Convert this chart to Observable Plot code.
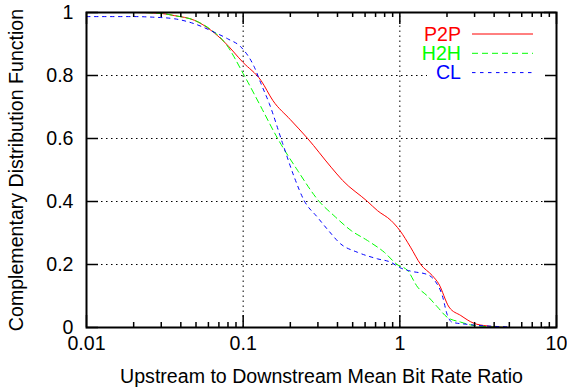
<!DOCTYPE html>
<html><head><meta charset="utf-8">
<script src="https://cdn.jsdelivr.net/npm/d3@7"></script>
<script src="https://cdn.jsdelivr.net/npm/@observablehq/plot@0.6"></script>
<style>body{margin:0;background:#fff} svg{display:block;background:#fff}</style>
</head><body><div id="chart"></div>
<script>
// ---- data ----
const seriesNames = ["P2P", "H2H", "CL"];
const seriesColors = ["#ff0000", "#00ff00", "#0000ff"];
const seriesDash = [null, "6,4", "3.5,4.5"];

const p2pX = [0.01,0.02,0.03,0.0365,0.049,0.0625,0.076,0.0996,0.13,0.155,0.2,0.258,0.364,0.431,0.622,0.72,0.877,1.0,1.17,1.36,1.61,1.77,2.06,2.45,2.95,3.6,5];
const p2pY = [1,1,0.997,0.99,0.975,0.943,0.906,0.842,0.784,0.72,0.66,0.6,0.509,0.467,0.4,0.371,0.34,0.308,0.255,0.2,0.165,0.139,0.065,0.038,0.014,0.005,0];

const h2hX = [0.01,0.02,0.03,0.0365,0.049,0.0625,0.076,0.1016,0.13,0.166,0.223,0.306,0.38,0.488,0.622,0.795,0.96,1.12,1.30,1.5,1.74,2.0,2.45,3.0,5];
const h2hY = [1,1,0.997,0.99,0.975,0.945,0.906,0.8,0.70,0.6,0.498,0.4,0.355,0.308,0.276,0.239,0.2,0.181,0.128,0.1,0.065,0.033,0.017,0.006,0];

const clX = [0.01,0.02,0.027,0.0365,0.049,0.0656,0.08,0.097,0.118,0.13,0.147,0.179,0.212,0.245,0.298,0.35,0.42,0.535,0.72,0.877,1.0,1.17,1.5,1.67,1.87,2.0,2.15,2.7,4.9];
const clY = [0.987,0.987,0.985,0.98,0.964,0.937,0.916,0.89,0.826,0.774,0.71,0.583,0.477,0.403,0.35,0.308,0.265,0.239,0.218,0.207,0.19,0.179,0.168,0.149,0.1,0.043,0.017,0.01,0.002];

const xTickValues = [0.01, 0.1, 1, 10];
const xTickLabels = ["0.01", "0.1", "1", "10"];
const yTickValues = [0, 0.2, 0.4, 0.6, 0.8, 1];
const yTickLabels = ["0", "0.2", "0.4", "0.6", "0.8", "1"];
const xGrid = [0.1, 1];
const yGrid = [0.2, 0.4, 0.6, 0.8];
const xLabel = "Upstream to Downstream Mean Bit Rate Ratio";
const yLabel = "Complementary Distribution Function";

// ---- build table ----
const allX = [p2pX, h2hX, clX], allY = [p2pY, h2hY, clY];
const rows = [];
seriesNames.forEach((s, i) => allX[i].forEach((x, j) => rows.push({series: s, x, y: allY[i][j]})));

const W = 567, H = 392, mL = 86, mR = 11, mT = 12, mB = 65;
const pw = W - mL - mR, ph = H - mT - mB;
const FONT = "'Liberation Sans', Arial, Helvetica, sans-serif";
const FS = 19.6;

// minor ticks (2..9 per decade)
const minorX = [];
[0.01, 0.1, 1].forEach(d => { for (let k = 2; k <= 9; k++) minorX.push(d * k); });

// tick lengths converted to data units
const majLen = 12, minLen = 5;
const yMaj = majLen / ph, yMin = minLen / ph;
const xFac = Math.pow(10, 3 * majLen / pw);

const marks = [];
// grid
marks.push(Plot.ruleX(xGrid, {x: d => d, y1: 0, y2: 1, stroke: "#000", strokeWidth: 1, strokeDasharray: "1.5,3.5"}));
marks.push(Plot.ruleY(yGrid, {y: d => d, x1: 0.01, x2: 10, stroke: "#000", strokeWidth: 1, strokeDasharray: "1.5,3.5"}));
// series lines
seriesNames.forEach((s, i) => {
  marks.push(Plot.line(rows.filter(r => r.series === s), {
    x: "x", y: "y", stroke: seriesColors[i], strokeWidth: 1,
    strokeDasharray: seriesDash[i] || undefined, curve: "monotone-x"
  }));
});
// ticks (inside, both sides)
marks.push(Plot.ruleX(xTickValues, {x: d => d, y1: 0, y2: yMaj, stroke: "#000", strokeWidth: 1.5}));
marks.push(Plot.ruleX(xTickValues, {x: d => d, y1: 1, y2: 1 - yMaj, stroke: "#000", strokeWidth: 1.5}));
marks.push(Plot.ruleX(minorX, {x: d => d, y1: 0, y2: yMin, stroke: "#000", strokeWidth: 1.5}));
marks.push(Plot.ruleX(minorX, {x: d => d, y1: 1, y2: 1 - yMin, stroke: "#000", strokeWidth: 1.5}));
marks.push(Plot.ruleY(yTickValues, {y: d => d, x1: 0.01, x2: 0.01 * xFac, stroke: "#000", strokeWidth: 1.5}));
marks.push(Plot.ruleY(yTickValues, {y: d => d, x1: 10, x2: 10 / xFac, stroke: "#000", strokeWidth: 1.5}));
marks.push(Plot.frame({stroke: "#000", strokeWidth: 2}));
// axes labels
marks.push(Plot.axisX(xTickValues, {tickSize: 0, tickPadding: 9, tickFormat: d => xTickLabels[xTickValues.indexOf(d)], fontSize: FS, label: null}));
marks.push(Plot.axisY(yTickValues, {tickSize: 0, tickPadding: 13, tickFormat: d => yTickLabels[yTickValues.indexOf(d)], fontSize: FS, label: null}));
marks.push(Plot.text([xLabel], {text: d => d, frameAnchor: "bottom", textAnchor: "middle", dy: 49, fontSize: FS, lineAnchor: "middle", fill: "#000"}));
marks.push(Plot.text([yLabel], {text: d => d, frameAnchor: "left", textAnchor: "middle", dx: -70, rotate: -90, fontSize: FS, lineAnchor: "middle", fill: "#000"}));

const chart = Plot.plot({
  width: W, height: H,
  marginLeft: mL, marginRight: mR, marginTop: mT, marginBottom: mB,
  style: {fontFamily: FONT, fontSize: FS + "px", color: "#000", background: "#fff", overflow: "visible"},
  x: {type: "log", domain: [0.01, 10], axis: null},
  y: {domain: [0, 1], axis: null},
  marks
});
document.getElementById("chart").appendChild(chart);

// ---- legend (inside top-right) ----
const svg = d3.select(chart);
const g = svg.append("g");
g.append("rect").attr("x", 427).attr("y", 22).attr("width", 118).attr("height", 62).attr("fill", "#fff");
seriesNames.forEach((s, i) => {
  const cy = 34 + i * 19.3;
  g.append("text").attr("x", 461).attr("y", cy).attr("dy", "0.35em").attr("text-anchor", "end")
    .attr("fill", seriesColors[i]).attr("font-size", FS).attr("font-family", FONT).text(s);
  g.append("line").attr("x1", 472).attr("x2", 533).attr("y1", cy).attr("y2", cy)
    .attr("stroke", seriesColors[i]).attr("stroke-width", 1)
    .attr("stroke-dasharray", seriesDash[i] || null);
});
</script>
</body></html>
